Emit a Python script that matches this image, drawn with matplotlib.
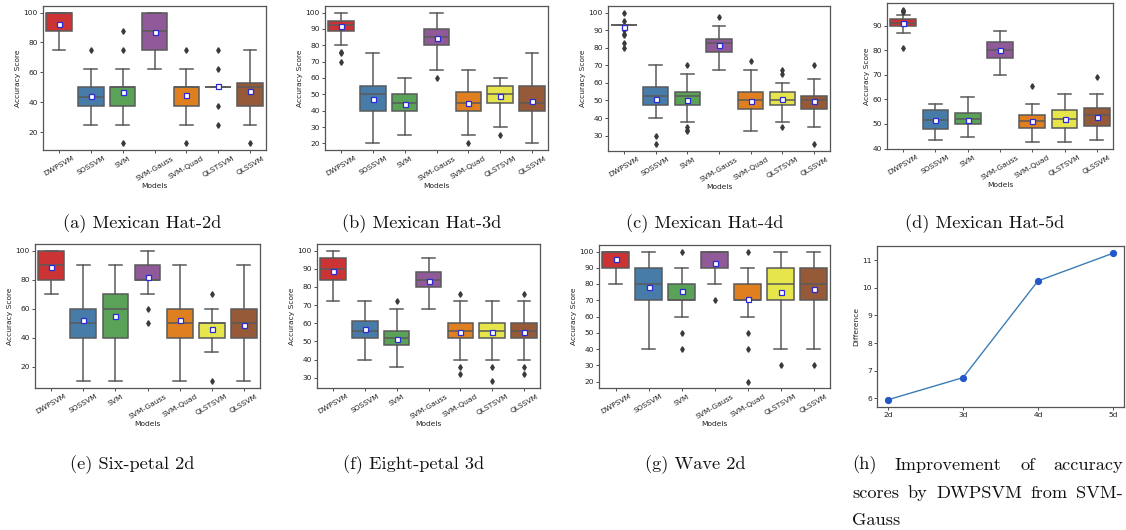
import colorsys
import matplotlib
matplotlib.use("Agg")
import matplotlib.pyplot as plt
import matplotlib.colors as mcolors

MODELS = ["DWPSVM", "SOSSVM", "SVM", "SVM-Gauss", "SVM-Quad", "QLSTSVM", "QLSSVM"]
PALETTE = ["#e41a1c", "#377eb8", "#4daf4a", "#984ea3", "#ff7f00", "#ffff33", "#a65628"]

# (a) Mexican Hat-2d
A_Q1 = [87.5, 37.5, 37.5, 75, 37.5, 50, 37.5]
A_MED = [100, 43.75, 50, 87.5, 50, 50, 50]
A_Q3 = [100, 50, 50, 100, 50, 50, 53.125]
A_LO = [75, 25, 25, 62.5, 25, 50, 25]
A_HI = [100, 62.5, 62.5, 100, 62.5, 50, 75]
A_MEAN = [92.5, 44.5, 47, 87, 45, 51, 47.5]
A_FLIERS = [[], [75], [87.5, 75, 12.5], [], [75, 12.5], [75, 62.5, 37.5, 25], [12.5]]

# (b) Mexican Hat-3d
B_Q1 = [89, 40, 40, 80, 40, 45, 40]
B_MED = [92.5, 50, 45, 85, 45, 50, 45]
B_Q3 = [95, 55, 50, 90, 51.25, 55, 55]
B_LO = [80, 20, 25, 65, 25, 30, 20]
B_HI = [100, 75, 60, 100, 65, 60, 75]
B_MEAN = [91.5, 47, 44, 84.5, 45, 49, 46]
B_FLIERS = [[76, 75, 70], [], [], [60], [20], [25], []]

# (c) Mexican Hat-4d
C_Q1 = [92.8, 47.5, 47.5, 77.5, 45, 47.5, 45]
C_MED = [92.8, 52.5, 52.5, 82.5, 50, 50, 50]
C_Q3 = [92.8, 57.5, 55, 85, 55, 55, 52.5]
C_LO = [92.8, 40, 37.5, 67.5, 32.5, 37.5, 35]
C_HI = [92.8, 70, 65, 92.5, 67.5, 60, 62.5]
C_MEAN = [91.8, 51, 50.5, 81.5, 49.5, 51, 49.5]
C_FLIERS = [[100, 95, 90, 88, 87.5, 82.5, 80], [30, 25], [70, 35, 33, 32.5], [97.5],
            [72.5], [67.5, 65, 35], [70, 25]]

# (d) Mexican Hat-5d
D_Q1 = [90, 48, 50, 77, 48.5, 48.5, 49]
D_MED = [91, 51.75, 52, 80, 51, 52, 53.5]
D_Q3 = [92.5, 55.5, 54.5, 83.5, 53.5, 55.5, 56.5]
D_LO = [87, 43.5, 44.5, 70, 42.5, 42.5, 43.5]
D_HI = [94.5, 58, 61, 88, 58, 62, 62]
D_MEAN = [91, 51.5, 51.5, 80, 51.2, 52, 53]
D_FLIERS = [[96.5, 96, 95.5, 81], [], [], [], [65.5], [], [69]]

# (e) Six-petal 2d
E_Q1 = [80, 40, 40, 80, 40, 40, 40]
E_MED = [90, 50, 60, 80, 50, 50, 50]
E_Q3 = [100, 60, 70, 90, 60, 50, 60]
E_LO = [70, 10, 10, 70, 10, 30, 10]
E_HI = [100, 90, 90, 100, 90, 60, 90]
E_MEAN = [89, 52.5, 55, 82, 52.5, 46, 48.5]
E_FLIERS = [[], [], [], [60, 50], [], [70, 10], []]

# (f) Eight-petal 3d
F_Q1 = [84, 52, 48, 80, 52, 52, 52]
F_MED = [90, 56, 52, 84, 56, 56, 56]
F_Q3 = [96, 61, 56, 88, 60, 60, 60]
F_LO = [72, 40, 36, 68, 40, 40, 40]
F_HI = [100, 72, 68, 96, 72, 72, 72]
F_MEAN = [89, 57, 51.5, 83, 55, 55, 55]
F_FLIERS = [[], [], [72], [], [76, 36, 32], [36, 28], [76, 36, 32]]

# (g) Wave 2d
G_Q1 = [90, 70, 70, 90, 70, 70, 70]
G_MED = [100, 80, 70, 100, 70, 80, 80]
G_Q3 = [100, 90, 80, 100, 80, 90, 90]
G_LO = [80, 40, 60, 80, 60, 40, 40]
G_HI = [100, 100, 90, 100, 90, 100, 100]
G_MEAN = [95.5, 78, 76, 93, 71, 75, 77]
G_FLIERS = [[], [], [100, 50, 40], [70], [100, 50, 40, 20], [30], [30]]

# (h) Improvement
DIMS = ["2d", "3d", "4d", "5d"]
DIFFS = [5.95, 6.75, 10.25, 11.25]

CAPTIONS = ["(a) Mexican Hat-2d", "(b) Mexican Hat-3d", "(c) Mexican Hat-4d",
            "(d) Mexican Hat-5d", "(e) Six-petal 2d", "(f) Eight-petal 3d", "(g) Wave 2d"]
CAPTION_H = ["(h) Improvement of accuracy", "scores by DWPSVM from SVM-", "Gauss"]

W, H = 1126, 530
fig = plt.figure(figsize=(W / 100, H / 100), dpi=100)

def ax_at(l, t, r, b):
    return fig.add_axes([l / W, 1 - b / H, (r - l) / W, (b - t) / H])

def desat(c, p=0.75):
    r, g, b = mcolors.to_rgb(c)
    h, l, s = colorsys.rgb_to_hls(r, g, b)
    return colorsys.hls_to_rgb(h, l, s * p)

GRAY = "#5a5a5a"
TICK_FS = 5.4

def box_panel(rect, q1, med, q3, lo, hi, mean, fliers):
    ax = ax_at(*rect)
    stats = []
    for i in range(len(MODELS)):
        stats.append(dict(q1=q1[i], med=med[i], q3=q3[i], whislo=lo[i], whishi=hi[i],
                          mean=mean[i], fliers=fliers[i]))
    res = ax.bxp(stats, positions=list(range(len(MODELS))), widths=0.8,
                 showmeans=True, patch_artist=True, manage_ticks=False,
                 boxprops=dict(edgecolor=GRAY, linewidth=1.1),
                 medianprops=dict(color=GRAY, linewidth=1.1),
                 whiskerprops=dict(color=GRAY, linewidth=1.1),
                 capprops=dict(color=GRAY, linewidth=1.1),
                 flierprops=dict(marker="d", markerfacecolor="#3a3a3a",
                                 markeredgecolor="#3a3a3a", markersize=2.8),
                 meanprops=dict(marker="s", markerfacecolor="white",
                                markeredgecolor="#2a2ad8", markersize=3.6,
                                markeredgewidth=0.9))
    for patch, c in zip(res["boxes"], PALETTE):
        patch.set_facecolor(desat(c))
    allv = lo + hi + [v for f in fliers for v in f]
    vmin, vmax = min(allv), max(allv)
    m = (vmax - vmin) * 0.05
    ax.set_ylim(vmin - m, vmax + m)
    ax.set_xlim(-0.5, len(MODELS) - 0.5)
    ax.set_xticks(range(len(MODELS)))
    ax.set_xticklabels(MODELS, rotation=30, fontsize=TICK_FS)
    ax.tick_params(axis="y", labelsize=TICK_FS)
    ax.tick_params(length=2.2, width=0.6, pad=1.5, color="#333333", labelcolor="#222222")
    ax.set_xlabel("Models", fontsize=5.4, labelpad=1, color="#222222")
    ax.set_ylabel("Accuracy Score", fontsize=5.4, labelpad=2, color="#222222")
    for s in ax.spines.values():
        s.set_color("#555555")
        s.set_linewidth(0.9)
    return ax

box_panel((43, 6, 266, 150), A_Q1, A_MED, A_Q3, A_LO, A_HI, A_MEAN, A_FLIERS)
box_panel((325, 6, 548, 150), B_Q1, B_MED, B_Q3, B_LO, B_HI, B_MEAN, B_FLIERS)
box_panel((608, 6, 830, 151), C_Q1, C_MED, C_Q3, C_LO, C_HI, C_MEAN, C_FLIERS)
box_panel((887, 3, 1113, 149), D_Q1, D_MED, D_Q3, D_LO, D_HI, D_MEAN, D_FLIERS)
box_panel((35, 244, 260, 388), E_Q1, E_MED, E_Q3, E_LO, E_HI, E_MEAN, E_FLIERS)
box_panel((317, 244, 540, 388), F_Q1, F_MED, F_Q3, F_LO, F_HI, F_MEAN, F_FLIERS)
box_panel((599, 245, 830, 388), G_Q1, G_MED, G_Q3, G_LO, G_HI, G_MEAN, G_FLIERS)

# (h) line chart
axh = ax_at(877, 246, 1124, 407)
axh.plot(DIMS, DIFFS, color="#3b7db5", linewidth=1.0, marker="o",
         markersize=4.2, markerfacecolor="#2457c8", markeredgecolor="#2457c8")
axh.set_ylabel("Difference", fontsize=5.4, labelpad=2, color="#222222")
axh.tick_params(labelsize=TICK_FS, length=2.2, width=0.6, pad=1.5, color="#333333",
                labelcolor="#222222")
for s in axh.spines.values():
    s.set_color("#555555")
    s.set_linewidth(0.9)

# captions
CAP_FS = 13.2
cap_font = "cmr10"
row1 = [142, 422, 705, 985]
row2 = [132, 414, 695]
for x, txt in zip(row1, CAPTIONS[:4]):
    fig.text(x / W, 1 - 224 / H, txt, ha="center", va="center", fontsize=CAP_FS,
             family=cap_font, color="#111111")
for x, txt in zip(row2, CAPTIONS[4:]):
    fig.text(x / W, 1 - 465 / H, txt, ha="center", va="center", fontsize=CAP_FS,
             family=cap_font, color="#111111")

# (h) caption, justified between x=852 and x=1123
renderer = fig.canvas.get_renderer()
x0, x1 = 852, 1123
line_y = [465, 493, 520]
for li, (line, yy) in enumerate(zip(CAPTION_H, line_y)):
    words = line.split(" ")
    if li == len(CAPTION_H) - 1 or len(words) == 1:
        fig.text(x0 / W, 1 - yy / H, line, ha="left", va="center", fontsize=CAP_FS,
                 family=cap_font, color="#111111")
        continue
    arts = []
    widths = []
    for w_ in words:
        t = fig.text(0, 1 - yy / H, w_, ha="left", va="center", fontsize=CAP_FS,
                     family=cap_font, color="#111111")
        arts.append(t)
        widths.append(t.get_window_extent(renderer).width)
    gap = (x1 - x0 - sum(widths)) / (len(words) - 1)
    cx = x0
    for t, wd in zip(arts, widths):
        t.set_x(cx / W)
        cx += wd + gap

fig.savefig("out.png", dpi=100)
